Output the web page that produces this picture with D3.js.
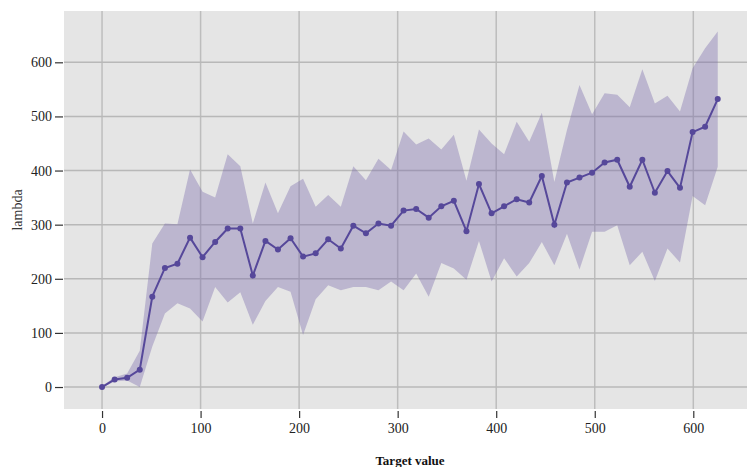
<!DOCTYPE html>
<html><head><meta charset="utf-8">
<script src="https://cdn.jsdelivr.net/npm/d3@7"></script>
<style>body{margin:0;background:#fff;}svg{display:block;}</style>
</head><body>
<svg id="chart" width="747" height="467"></svg>
<script>
const targetValues = [0,12.8,25.5,38.3,51,63.8,76.5,89.3,102,114.8,127.5,140.3,153,165.8,178.5,191.3,204,216.8,229.5,242.3,255,267.8,280.5,293.3,306,318.8,331.5,344.3,357,369.8,382.5,395.3,408,420.8,433.5,446.3,459,471.8,484.5,497.3,510,522.8,535.5,548.3,561,573.8,586.5,599.3,612,624.8];
const lambdaMean = [0,14,17,32,167,220,228,276,240,268,293,293,206,270,254,275,241,247,273,256,298,284,302,298,326,329,313,334,344,288,375,321,334,347,341,390,300,378,387,396,415,420,370,420,359,399,368,471,481,532];
const lambdaUpper = [2,18,25,67,265,302,301,402,361,350,430,408,302,378,321,371,385,333,355,333,408,382,422,401,472,448,459,439,466,381,476,450,430,490,453,507,379,475,558,504,543,540,517,587,524,538,509,589,626,657];
const lambdaLower = [-1,10,12,0,75,136,155,145,121,185,156,175,115,159,185,176,96,162,188,179,185,185,179,195,179,210,167,229,219,198,270,195,238,204,229,268,225,283,217,287,287,299,225,250,196,256,230,353,336,407];
const xTicks = [0,100,200,300,400,500,600];
const yTicks = [0,100,200,300,400,500,600];

const svg = d3.select("#chart");
const L = 64, R = 747, T = 11, B = 409;
const x = d3.scaleLinear().domain([-38.6, 654.5]).range([L, R]);
const y = d3.scaleLinear().domain([-40.6, 694.8]).range([B, T]);
const font = "'Liberation Serif','Times New Roman',serif";

svg.append("rect").attr("x", L).attr("y", T).attr("width", R - L).attr("height", B - T).attr("fill", "#e5e5e5");

const grid = svg.append("g");
xTicks.forEach(t => grid.append("line").attr("x1", x(t)).attr("x2", x(t)).attr("y1", T).attr("y2", B)
  .attr("stroke", "#bdbdbd").attr("stroke-width", 1.5));
yTicks.forEach(t => grid.append("line").attr("x1", L).attr("x2", R).attr("y1", y(t)).attr("y2", y(t))
  .attr("stroke", "#b8b8b8").attr("stroke-width", 1.5));

const data = targetValues.map((v, i) => ({x: v, m: lambdaMean[i], u: lambdaUpper[i], l: lambdaLower[i]}));

svg.append("path").datum(data)
  .attr("d", d3.area().x(d => x(d.x)).y0(d => y(d.l)).y1(d => y(d.u)))
  .attr("fill", "#7a6aac").attr("fill-opacity", 0.38);

svg.append("path").datum(data)
  .attr("d", d3.line().x(d => x(d.x)).y(d => y(d.m)))
  .attr("fill", "none").attr("stroke", "#56489a").attr("stroke-width", 2);

svg.append("g").selectAll("circle").data(data).join("circle")
  .attr("cx", d => x(d.x)).attr("cy", d => y(d.m)).attr("r", 3)
  .attr("fill", "#56489a");

const xAxis = svg.append("g").attr("transform", `translate(0,${B + 2})`)
  .call(d3.axisBottom(x).tickValues(xTicks).tickSize(7).tickPadding(5));
const yAxis = svg.append("g").attr("transform", `translate(${L - 1},0)`)
  .call(d3.axisLeft(y).tickValues(yTicks).tickSize(8).tickPadding(3));
[xAxis, yAxis].forEach(a => {
  a.select(".domain").remove();
  a.selectAll(".tick line").attr("stroke", "#333").attr("stroke-width", 1.2);
  a.selectAll(".tick text").attr("fill", "#222").style("font-family", font).style("font-size", "14px");
});

svg.append("text").attr("x", 410).attr("y", 465).attr("text-anchor", "middle")
  .style("font-family", font).style("font-size", "13px").style("font-weight", "bold").attr("fill", "#111")
  .text("Target value");
svg.append("text").attr("transform", `translate(22,${(T + B) / 2}) rotate(-90)`).attr("text-anchor", "middle")
  .style("font-family", font).style("font-size", "14px").attr("fill", "#333")
  .text("lambda");
</script>
</body></html>
